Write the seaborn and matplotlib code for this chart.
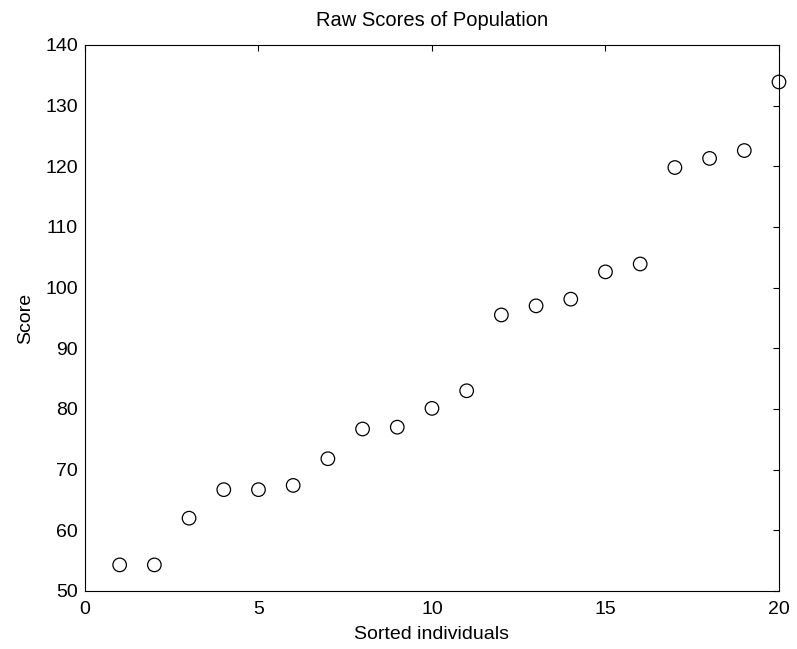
import matplotlib
matplotlib.use('Agg')
import matplotlib.pyplot as plt
import numpy as np
import pandas as pd
import seaborn as sns

individuals = list(range(1, 21))
scores = [54.3, 54.3, 62.0, 66.7, 66.7, 67.4, 71.8, 76.7, 77.0, 80.1,
          83.0, 95.5, 97.0, 98.1, 102.6, 103.9, 119.8, 121.3, 122.6, 133.9]

df = pd.DataFrame({'individual': individuals, 'score': scores})

sns.set_style('white')
plt.rcParams['font.family'] = ['Liberation Sans', 'DejaVu Sans']
plt.rcParams['text.color'] = 'black'
plt.rcParams['axes.labelcolor'] = 'black'

fig = plt.figure(figsize=(7.97, 6.49), dpi=100)
ax = fig.add_axes([0.1066, 0.0894, 0.8708, 0.8413])

sns.scatterplot(data=df, x='individual', y='score', ax=ax, marker='o',
                s=95, facecolor='none', edgecolor='black', linewidth=0.9,
                clip_on=False, zorder=3)

ax.set_xlim(0, 20)
ax.set_ylim(50, 140)
ax.set_xticks([0, 5, 10, 15, 20])
ax.set_yticks(np.arange(50, 141, 10))
ax.tick_params(direction='in', top=True, right=True, length=4.5, width=0.8,
               labelsize=14, colors='black')
ax.tick_params(axis='x', pad=7)
ax.tick_params(axis='y', pad=5)
for sp in ax.spines.values():
    sp.set_color('black')
    sp.set_linewidth(0.8)

ax.set_xlabel('Sorted individuals', fontsize=14, labelpad=6)
ax.set_ylabel('Score', fontsize=14, labelpad=8)
ax.set_title('Raw Scores of Population', fontsize=14.5, pad=14)

fig.savefig('out.png', dpi=100)
